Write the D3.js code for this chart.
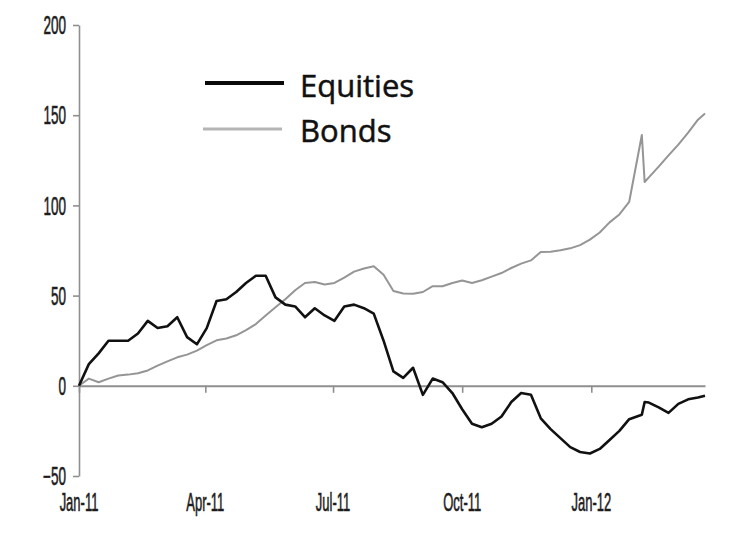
<!DOCTYPE html>
<html>
<head>
<meta charset="utf-8">
<script src="https://cdn.jsdelivr.net/npm/d3@7"></script>
<style>
  html, body { margin: 0; padding: 0; background: #fff; }
  svg { display: block; }
</style>
</head>
<body>
<svg id="chart" width="744" height="543"></svg>
<script>
const dates = [
  "2011-01-01","2011-01-08","2011-01-15","2011-01-22","2011-01-29","2011-02-05","2011-02-12","2011-02-19",
  "2011-02-26","2011-03-05","2011-03-12","2011-03-19","2011-03-26","2011-04-02","2011-04-09","2011-04-16",
  "2011-04-23","2011-04-30","2011-05-07","2011-05-14","2011-05-21","2011-05-28","2011-06-04","2011-06-11",
  "2011-06-18","2011-06-25","2011-07-02","2011-07-09","2011-07-16","2011-07-23","2011-07-30","2011-08-06",
  "2011-08-13","2011-08-20","2011-08-27","2011-09-03","2011-09-10","2011-09-17","2011-09-24","2011-10-01",
  "2011-10-08","2011-10-15","2011-10-22","2011-10-29","2011-11-05","2011-11-12","2011-11-19","2011-11-26",
  "2011-12-03","2011-12-10","2011-12-17","2011-12-24","2011-12-31","2012-01-07","2012-01-14","2012-01-21",
  "2012-01-28","2012-02-06","2012-02-08","2012-02-11","2012-02-18","2012-02-25","2012-03-03","2012-03-10",
  "2012-03-17","2012-03-22"
];
const equities = [
  0, 12, 18, 25, 25, 25, 29, 36,
  32, 33, 38, 27, 23, 32, 47, 48,
  52, 57, 61, 61, 49, 45, 44, 38,
  43, 39, 36, 44, 45, 43, 40, 25,
  8, 4.4, 10, -5, 4, 2, -4, -13,
  -21, -23, -21, -17, -9, -4, -5, -18,
  -24, -29, -34, -36.7, -37.5, -35, -30, -25,
  -18.5, -16, -9, -9.3, -12, -15, -10, -7.5,
  -6.5, -5.5
];
const bonds = [
  0, 4, 2, 4, 5.7, 6.2, 7, 8.5,
  11.2, 13.5, 15.8, 17.3, 19.5, 22.5, 25.2, 26.2,
  28, 30.9, 34.2, 39, 43.6, 48, 53, 57,
  57.5, 56.2, 57, 60, 63.3, 65, 66.3, 61.5,
  52.5, 51.2, 51, 52, 55.2, 55.2, 57, 58.4,
  57, 58.5, 60.5, 62.5, 65.3, 67.7, 69.5, 74.2,
  74.3, 75.1, 76.2, 78, 81, 85, 90.6, 95,
  102, 139, 113, 115.5, 121.5, 127.7, 133.7, 140.3,
  147.5, 151
];
const yTicks = [-50, 0, 50, 100, 150, 200];
const xTickDates = ["2011-01-01","2011-04-01","2011-07-01","2011-10-01","2012-01-01"];
const xTickLabels = ["Jan-11","Apr-11","Jul-11","Oct-11","Jan-12"];
const seriesNames = ["Equities", "Bonds"];

const parse = d3.timeParse("%Y-%m-%d");
const svg = d3.select("#chart");

const x = d3.scaleTime()
  .domain([parse("2011-01-01"), parse("2012-03-22")])
  .range([79, 705]);
const y = d3.scaleLinear().domain([-50, 200]).range([476, 25]);

const axisColor = "#8f8f8f";
const labelFont = "'Liberation Sans', Arial, sans-serif";

// Y axis
const yAxis = svg.append("g").attr("transform", "translate(79,0)")
  .call(d3.axisLeft(y).tickValues(yTicks).tickSize(6).tickSizeOuter(0).tickFormat(d3.format("d")));
yAxis.select(".domain").attr("stroke", axisColor).attr("stroke-width", 1.6);
yAxis.selectAll(".tick line").attr("stroke", axisColor).attr("stroke-width", 1.6);
yAxis.selectAll(".tick text")
  .attr("x", 0).attr("dy", "0.35em")
  .attr("transform", "translate(-13,0) scale(0.54,1)")
  .attr("text-anchor", "end")
  .attr("font-family", labelFont).attr("font-size", 25)
  .attr("fill", "#1c1c1c")
  .attr("stroke", "#1c1c1c").attr("stroke-width", 0.6);

// X axis at zero line
const xAxis = svg.append("g").attr("transform", `translate(0,${y(0)})`)
  .call(d3.axisBottom(x).tickValues(xTickDates.map(parse)).tickSize(7).tickSizeOuter(0).tickFormat(""));
xAxis.select(".domain").attr("stroke", axisColor).attr("stroke-width", 2);
xAxis.selectAll(".tick line").attr("stroke", axisColor).attr("stroke-width", 1.6);

// X tick labels at bottom
svg.append("g").selectAll("text")
  .data(xTickDates.map((d, i) => ({ d: parse(d), label: xTickLabels[i] })))
  .join("text")
  .attr("transform", d => `translate(${x(d.d)},511) scale(0.52,1)`)
  .attr("text-anchor", "middle")
  .attr("font-family", labelFont).attr("font-size", 25)
  .attr("fill", "#1c1c1c")
  .attr("stroke", "#1c1c1c").attr("stroke-width", 0.6)
  .text(d => d.label);

const rows = dates.map((d, i) => ({ date: parse(d), eq: equities[i], bd: bonds[i] }));

const lineBonds = d3.line().x(d => x(d.date)).y(d => y(d.bd));
const lineEq = d3.line().x(d => x(d.date)).y(d => y(d.eq));

svg.append("path").datum(rows)
  .attr("fill", "none").attr("stroke", "#959595").attr("stroke-width", 2)
  .attr("stroke-linejoin", "round").attr("d", lineBonds);

svg.append("path").datum(rows)
  .attr("fill", "none").attr("stroke", "#111").attr("stroke-width", 2.6)
  .attr("stroke-linejoin", "round").attr("d", lineEq);

// Legend
const legend = svg.append("g");
const legItems = [
  { name: seriesNames[0], color: "#0a0a0a", width: 4, ly: 83, ty: 97, x1: 205, x2: 284 },
  { name: seriesNames[1], color: "#b5b5b5", width: 3, ly: 129, ty: 142, x1: 203, x2: 282 }
];
legend.selectAll("line").data(legItems).join("line")
  .attr("x1", d => d.x1).attr("x2", d => d.x2)
  .attr("y1", d => d.ly).attr("y2", d => d.ly)
  .attr("stroke", d => d.color).attr("stroke-width", d => d.width);
legend.selectAll("text").data(legItems).join("text")
  .attr("x", 300).attr("y", d => d.ty)
  .attr("font-family", "'Open Sans', 'Noto Sans', sans-serif")
  .attr("font-size", 31)
  .attr("fill", "#111")
  .attr("stroke", "#111").attr("stroke-width", 0.5)
  .text(d => d.name);
</script>
</body>
</html>
